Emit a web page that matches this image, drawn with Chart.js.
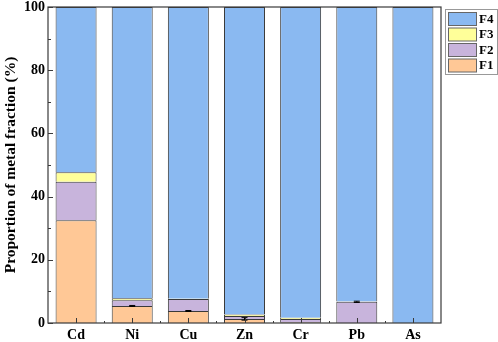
<!DOCTYPE html>
<html lang="en">
<head>
    <meta charset="UTF-8">
    <title>Metal fractions</title>
    <script src="https://cdn.jsdelivr.net/npm/chart.js"></script>
    <style>
        html, body { margin: 0; padding: 0; background: #fff; }
        #wrap { width: 498px; height: 342px; }
    </style>
</head>
<body>
    <div id="wrap"><canvas id="fractionChart"></canvas></div>
    <script>
        const metals = ["Cd", "Ni", "Cu", "Zn", "Cr", "Pb", "As"];
        const f1 = [32.5, 5.4, 3.8, 1.3, 0.2, 0.0, 0.0];
        const f2 = [12.2, 1.8, 3.8, 0.9, 1.1, 6.7, 0.0];
        const f3 = [3.0, 0.6, 0.1, 0.5, 0.4, 0.1, 0.0];
        const f4 = [52.3, 92.2, 92.3, 97.3, 98.3, 93.2, 100.0];
        // small error bars on top of F1 and F2 segments
        const errF1 = [0, 0.15, 0.15, 0.4, 0, 0, 0];
        const errF2 = [0, 0, 0, 0, 0, 0.2, 0];
        const yTicks = [0, 20, 40, 60, 80, 100];

        const fontFam = "'Liberation Serif', 'Times New Roman', serif";
        const edge = "#3a3a3a";

        const seriesInfo = [
            { label: "F1", data: f1, color: "#ffc896" },
            { label: "F2", data: f2, color: "#c8b4dc" },
            { label: "F3", data: f3, color: "#ffff99" },
            { label: "F4", data: f4, color: "#8ab9f1" }
        ];

        const framePlugin = {
            id: "frame",
            afterDatasetsDraw(chart) {
                const ctx = chart.ctx;
                const a = chart.chartArea;
                const x = chart.scales.x;
                const y = chart.scales.y;
                ctx.save();

                // error bars
                ctx.strokeStyle = "#000";
                ctx.lineWidth = 1;
                const drawErr = (tops, errs) => {
                    errs.forEach((e, i) => {
                        if (!e) return;
                        const cx = x.getPixelForValue(i);
                        const y1 = y.getPixelForValue(tops[i] + e);
                        const y2 = y.getPixelForValue(tops[i] - e);
                        ctx.beginPath();
                        ctx.moveTo(cx, y1); ctx.lineTo(cx, y2);
                        ctx.moveTo(cx - 3, y1); ctx.lineTo(cx + 3, y1);
                        ctx.moveTo(cx - 3, y2); ctx.lineTo(cx + 3, y2);
                        ctx.stroke();
                    });
                };
                drawErr(f1, errF1);
                drawErr(f1.map((v, i) => v + f2[i]), errF2);

                // frame
                ctx.strokeStyle = edge;
                ctx.lineWidth = 1.2;
                ctx.strokeRect(a.left, a.top, a.right - a.left, a.bottom - a.top);

                // inward ticks
                ctx.lineWidth = 1;
                ctx.beginPath();
                for (let v = 0; v <= 100; v += 10) {
                    const py = Math.round(y.getPixelForValue(v)) + 0.5;
                    const len = v % 20 === 0 ? 5 : 3;
                    ctx.moveTo(a.left, py); ctx.lineTo(a.left + len, py);
                }
                metals.forEach((m, i) => {
                    const px = Math.round(x.getPixelForValue(i)) + 0.5;
                    ctx.moveTo(px, a.bottom); ctx.lineTo(px, a.bottom - 5);
                    if (i < metals.length - 1) {
                        const mx = Math.round(x.getPixelForValue(i + 0.5)) + 0.5;
                        ctx.moveTo(mx, a.bottom); ctx.lineTo(mx, a.bottom - 2);
                    }
                });
                ctx.stroke();

                // legend box
                const lx = 445, ly = 9, lw = 52, lh = 65;
                ctx.fillStyle = "#fff";
                ctx.fillRect(lx, ly, lw, lh);
                ctx.strokeStyle = "#999";
                ctx.strokeRect(lx + 0.5, ly + 0.5, lw, lh);
                ctx.font = "bold 13px " + fontFam;
                ctx.textBaseline = "middle";
                seriesInfo.slice().reverse().forEach((s, k) => {
                    const ry = ly + 3 + k * 15.5;
                    ctx.fillStyle = s.color;
                    ctx.fillRect(lx + 3.5, ry + 0.5, 28, 13);
                    ctx.strokeStyle = "#666";
                    ctx.strokeRect(lx + 3.5, ry + 0.5, 28, 13);
                    ctx.fillStyle = "#000";
                    ctx.fillText(s.label, lx + 34, ry + 7.5);
                });
                ctx.restore();
            }
        };

        new Chart(document.getElementById("fractionChart"), {
            type: "bar",
            data: {
                labels: metals,
                datasets: seriesInfo.map(s => ({
                    label: s.label,
                    data: s.data,
                    backgroundColor: s.color,
                    borderColor: edge,
                    borderWidth: 1,
                    barPercentage: 0.73,
                    categoryPercentage: 1.0
                }))
            },
            options: {
                responsive: true,
                maintainAspectRatio: false,
                animation: false,
                layout: { padding: { top: 7, right: 57, left: 0, bottom: 0 } },
                plugins: {
                    legend: { display: false },
                    tooltip: { enabled: false }
                },
                scales: {
                    x: {
                        stacked: true,
                        grid: { display: false, drawTicks: false, tickLength: 0 },
                        border: { display: false },
                        ticks: {
                            color: "#000",
                            padding: 4,
                            font: { family: fontFam, size: 14, weight: "bold" }
                        },
                        afterFit: s => { s.height = 19; }
                    },
                    y: {
                        stacked: true,
                        min: 0,
                        max: 100,
                        afterBuildTicks: s => { s.ticks = yTicks.map(v => ({ value: v })); },
                        grid: { display: false, drawTicks: false, tickLength: 0 },
                        border: { display: false },
                        ticks: {
                            color: "#000",
                            padding: 3,
                            font: { family: fontFam, size: 14, weight: "bold" }
                        },
                        title: {
                            display: true,
                            text: "Proportion of metal fraction (%)",
                            color: "#000",
                            padding: { top: 2, bottom: 0 },
                            font: { family: fontFam, size: 15.5, weight: "bold" }
                        },
                        afterFit: s => { s.width = 48; s.paddingTop = 0; s.paddingBottom = 0; }
                    }
                }
            },
            plugins: [framePlugin]
        });
    </script>
</body>
</html>
